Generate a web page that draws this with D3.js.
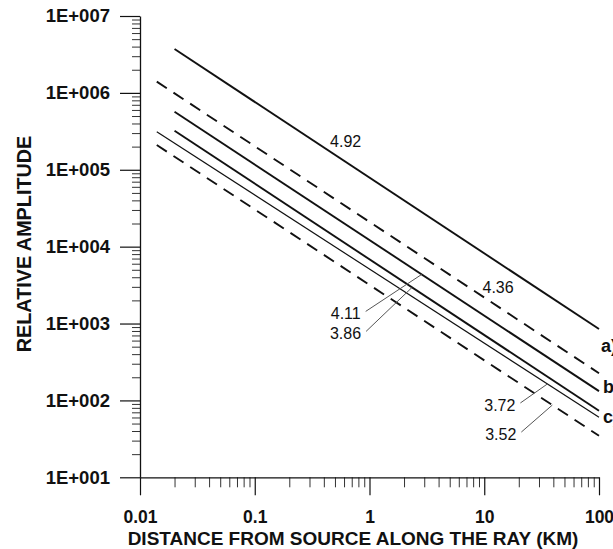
<!DOCTYPE html>
<html>
<head>
<meta charset="utf-8">
<script src="https://cdn.jsdelivr.net/npm/d3@7"></script>
<style>
  html, body { margin: 0; padding: 0; background: #fff; }
  svg { display: block; font-family: "Liberation Sans", Arial, sans-serif; }
</style>
</head>
<body>
<svg id="chart" width="613" height="549"></svg>
<script>
// Decay of relative amplitude with distance for six group velocities (km/s)
const velocities      = ["4.92", "4.36", "4.11", "3.86", "3.72", "3.52"];
const startDistance   = [0.02, 0.014, 0.02, 0.02, 0.014, 0.014];      // km
const endDistance     = [100, 100, 100, 100, 100, 100];               // km
const startAmplitude  = [3.72e6, 1.40e6, 5.69e5, 3.22e5, 3.13e5, 2.10e5];
const endAmplitude    = [848, 226, 132, 73.5, 60.3, 34.7];
const groupLabels     = ["a)", "b)", "c)"];

const xTickValues = [0.01, 0.1, 1, 10, 100];
const xTickLabels = ["0.01", "0.1", "1", "10", "100"];
const yTickValues = [1e1, 1e2, 1e3, 1e4, 1e5, 1e6, 1e7];
const yTickLabels = ["1E+001", "1E+002", "1E+003", "1E+004", "1E+005", "1E+006", "1E+007"];

const xTitle = "DISTANCE FROM SOURCE ALONG THE RAY (KM)";
const yTitle = "RELATIVE AMPLITUDE";

// ---- layout ----
const svg = d3.select("#chart");
const x = d3.scaleLog().domain([0.01, 100]).range([140, 599]);
const y = d3.scaleLog().domain([10, 1e7]).range([477.3, 16]);

const ink = "#111";

// line styles per curve: solid / dashed, stroke width
const lineStyle = [
  { dash: null,   w: 1.9 },
  { dash: "12,8", w: 1.9 },
  { dash: null,   w: 1.9 },
  { dash: null,   w: 1.9 },
  { dash: null,   w: 1.2 },
  { dash: "12,8", w: 1.9 }
];

// minor ticks 2..9 for each decade
function minorTicks(lo, hi) {
  const out = [];
  for (let p = Math.log10(lo); p < Math.log10(hi); p++) {
    for (let k = 2; k <= 9; k++) out.push(k * Math.pow(10, p));
  }
  return out;
}

// ---- Y axis ----
const yMinor = svg.append("g").attr("transform", "translate(140,0)")
  .call(d3.axisLeft(y).tickValues(minorTicks(10, 1e7)).tickSize(8).tickFormat(""));
yMinor.select(".domain").remove();
yMinor.selectAll("line").attr("stroke", "#333").attr("stroke-width", 1);

const yAxis = svg.append("g").attr("transform", "translate(140,0)")
  .call(d3.axisLeft(y).tickValues(yTickValues).tickSize(20).tickSizeOuter(0)
        .tickPadding(10).tickFormat((d, i) => yTickLabels[i]));
yAxis.select(".domain").attr("stroke", ink).attr("stroke-width", 1.3);
yAxis.selectAll("line").attr("stroke", ink).attr("stroke-width", 1.2);
yAxis.selectAll("text")
  .attr("fill", ink).style("font-size", "18.5px").style("font-weight", "bold");

// ---- X axis ----
const xMinor = svg.append("g").attr("transform", "translate(0,477.3)")
  .call(d3.axisBottom(x).tickValues(minorTicks(0.01, 100)).tickSize(10).tickFormat(""));
xMinor.select(".domain").remove();
xMinor.selectAll("line").attr("stroke", "#333").attr("stroke-width", 1);

const xAxis = svg.append("g").attr("transform", "translate(0,477.3)")
  .call(d3.axisBottom(x).tickValues(xTickValues).tickSize(18).tickSizeOuter(0)
        .tickPadding(15).tickFormat((d, i) => xTickLabels[i]));
xAxis.select(".domain").attr("stroke", ink).attr("stroke-width", 1.3);
xAxis.selectAll("line").attr("stroke", ink).attr("stroke-width", 1.2);
xAxis.selectAll("text")
  .attr("fill", ink).style("font-size", "17.5px").style("font-weight", "bold");

// ---- titles ----
svg.append("text")
  .attr("x", 353).attr("y", 545)
  .attr("text-anchor", "middle")
  .attr("fill", ink).style("font-size", "19px").style("font-weight", "bold")
  .text(xTitle);

svg.append("text")
  .attr("transform", "translate(31,244) rotate(-90)")
  .attr("text-anchor", "middle")
  .attr("fill", ink).style("font-size", "19.8px").style("font-weight", "bold")
  .text(yTitle);

// ---- curves ----
const curves = velocities.map((v, i) => ({
  v,
  pts: [[startDistance[i], startAmplitude[i]], [endDistance[i], endAmplitude[i]]],
  style: lineStyle[i]
}));

// amplitude on a curve at a given distance (straight in log-log)
function ampAt(c, d) {
  const [[d0, a0], [d1, a1]] = c.pts;
  const t = (Math.log10(d) - Math.log10(d0)) / (Math.log10(d1) - Math.log10(d0));
  return Math.pow(10, Math.log10(a0) + t * (Math.log10(a1) - Math.log10(a0)));
}

const lineGen = d3.line().x(d => x(d[0])).y(d => y(d[1]));

svg.append("g").selectAll("path")
  .data(curves)
  .join("path")
  .attr("d", c => lineGen(c.pts))
  .attr("fill", "none")
  .attr("stroke", ink)
  .attr("stroke-width", c => c.style.w)
  .attr("stroke-dasharray", c => c.style.dash);

// ---- curve labels placed just above the curve ----
const directLabels = [
  { idx: 0, at: 0.62, dy: -15 },
  { idx: 1, at: 13.2, dy: -14 }
];
svg.append("g").selectAll("text")
  .data(directLabels)
  .join("text")
  .attr("x", d => x(d.at))
  .attr("y", d => y(ampAt(curves[d.idx], d.at)) + d.dy)
  .attr("text-anchor", "middle")
  .attr("fill", ink).style("font-size", "16px")
  .text(d => velocities[d.idx]);

// ---- labels with leader lines ----
const leaderLabels = [
  { idx: 2, at: 2.85, dx: -56, dy: 37 },
  { idx: 3, at: 2.35, dx: -46, dy: 44 },
  { idx: 4, at: 35.5, dx: -27, dy: 19 },
  { idx: 5, at: 39.2, dx: -31, dy: 27 }
];
const lg = svg.append("g");
leaderLabels.forEach(d => {
  const tx = x(d.at), ty = y(ampAt(curves[d.idx], d.at));
  const sx = tx + d.dx, sy = ty + d.dy;
  lg.append("line")
    .attr("x1", sx).attr("y1", sy).attr("x2", tx).attr("y2", ty)
    .attr("stroke", "#555").attr("stroke-width", 1);
  lg.append("text")
    .attr("x", sx - 5).attr("y", sy + 8)
    .attr("text-anchor", "end")
    .attr("fill", ink).style("font-size", "16px")
    .text(velocities[d.idx]);
});

// ---- group letters at the right end, set against a curve end ----
const groupCurve = [0, 2, 3];
const groupDy = [18, -3, 8];
const groupDx = [601, 603, 603];
svg.append("g").selectAll("text")
  .data(groupLabels)
  .join("text")
  .attr("x", (d, i) => groupDx[i])
  .attr("y", (d, i) => y(endAmplitude[groupCurve[i]]) + groupDy[i])
  .attr("dominant-baseline", "middle")
  .attr("fill", ink).style("font-size", "18px").style("font-weight", "bold")
  .text(d => d);
</script>
</body>
</html>
